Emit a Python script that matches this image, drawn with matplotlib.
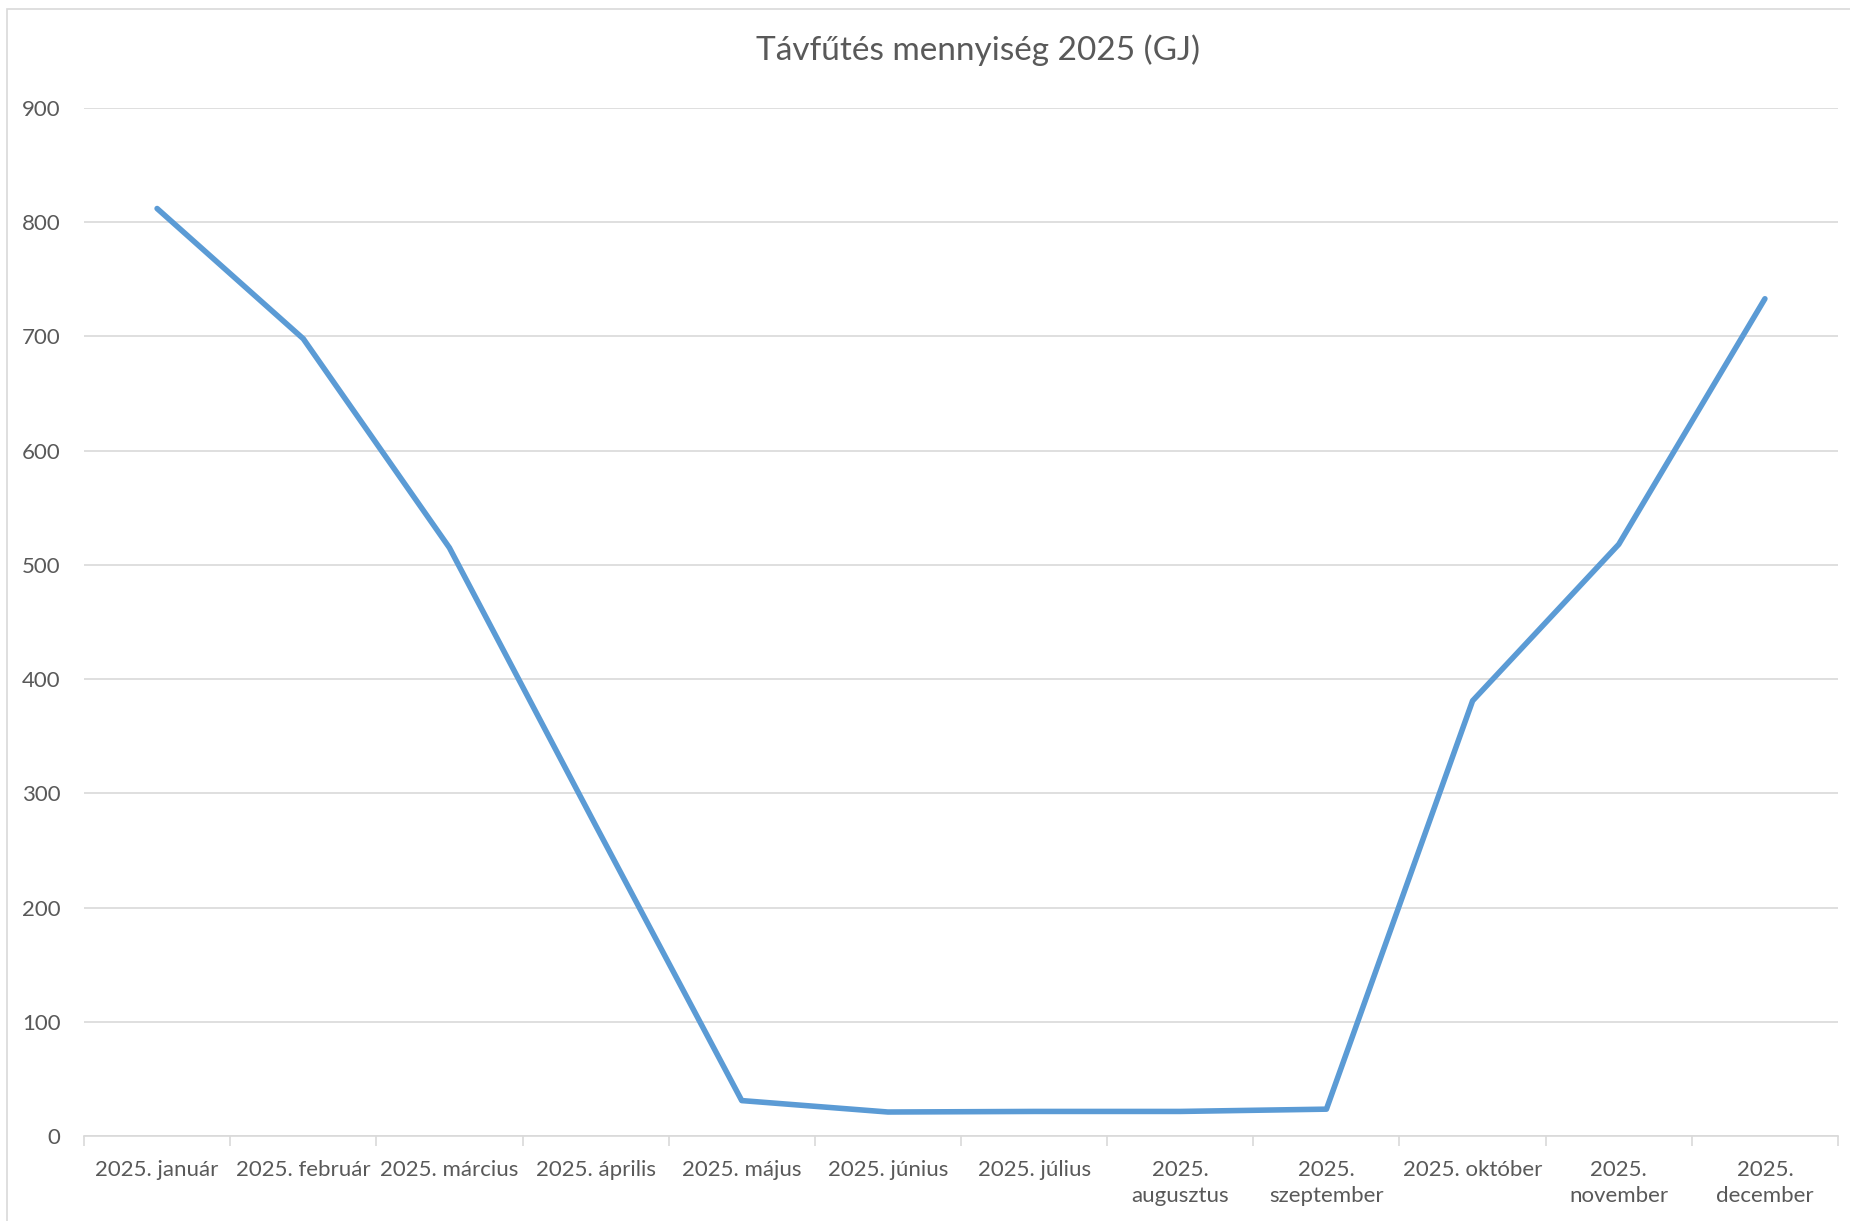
"""Távfűtés mennyiség 2025 – Excel-style line chart."""
import matplotlib
matplotlib.use("Agg")
import matplotlib.pyplot as plt
from matplotlib.patches import Rectangle
from matplotlib.ticker import FixedLocator

MONTHS = ["2025. január", "2025. február", "2025. március", "2025. április",
          "2025. május", "2025. június", "2025. július", "2025.\naugusztus",
          "2025.\nszeptember", "2025. október", "2025.\nnovember", "2025.\ndecember"]
VALUES = [812, 698, 515, 272, 31, 21, 21.5, 21.5, 23.5, 381, 518, 733]
YTICKS = [0, 100, 200, 300, 400, 500, 600, 700, 800, 900]

TEXT = "#595959"
GRID = "#d9d9d9"
LINE = "#5b9bd5"

plt.rcParams["font.family"] = ["Lato", "DejaVu Sans"]

W, H = 1850, 1221
fig = plt.figure(figsize=(W / 100, H / 100), dpi=100)

# chart area border (cropped on right/bottom)
fig.add_artist(Rectangle((7 / W, -0.05), 1.1, 1 - 9 / H + 0.05,
                         transform=fig.transFigure, fill=False,
                         edgecolor=GRID, lw=1.2))

ax = fig.add_axes([84 / W, 1 - 1136 / H, (1838 - 84) / W, (1136 - 108) / H])
x = range(len(MONTHS))
ax.plot(x, VALUES, color=LINE, lw=4.0, solid_capstyle="round",
        solid_joinstyle="round", zorder=3)

ax.set_xlim(-0.5, len(MONTHS) - 0.5)
ax.set_ylim(0, 900)
ax.set_yticks(YTICKS)
ax.yaxis.grid(True, color=GRID, lw=1.2)
ax.set_axisbelow(True)
for side in ["top", "right", "left"]:
    ax.spines[side].set_visible(False)
ax.spines["bottom"].set_color(GRID)
ax.spines["bottom"].set_linewidth(1.2)

ax.set_xticks(list(x))
ax.set_xticklabels(MONTHS, linespacing=1.4, va="top")
ax.xaxis.set_minor_locator(FixedLocator([i - 0.5 for i in range(len(MONTHS) + 1)]))
ax.tick_params(axis="x", which="major", length=0, pad=17, labelsize=16,
               labelcolor=TEXT)
ax.tick_params(axis="x", which="minor", length=7, width=1.2, color=GRID)
ax.tick_params(axis="y", length=0, pad=17, labelsize=16, labelcolor=TEXT)

fig.text(978 / W, 1 - 50 / H, "Távfűtés mennyiség 2025 (GJ)", ha="center",
         va="center", fontsize=24, color=TEXT)

fig.savefig("out.png", dpi=100)
plt.close(fig)
